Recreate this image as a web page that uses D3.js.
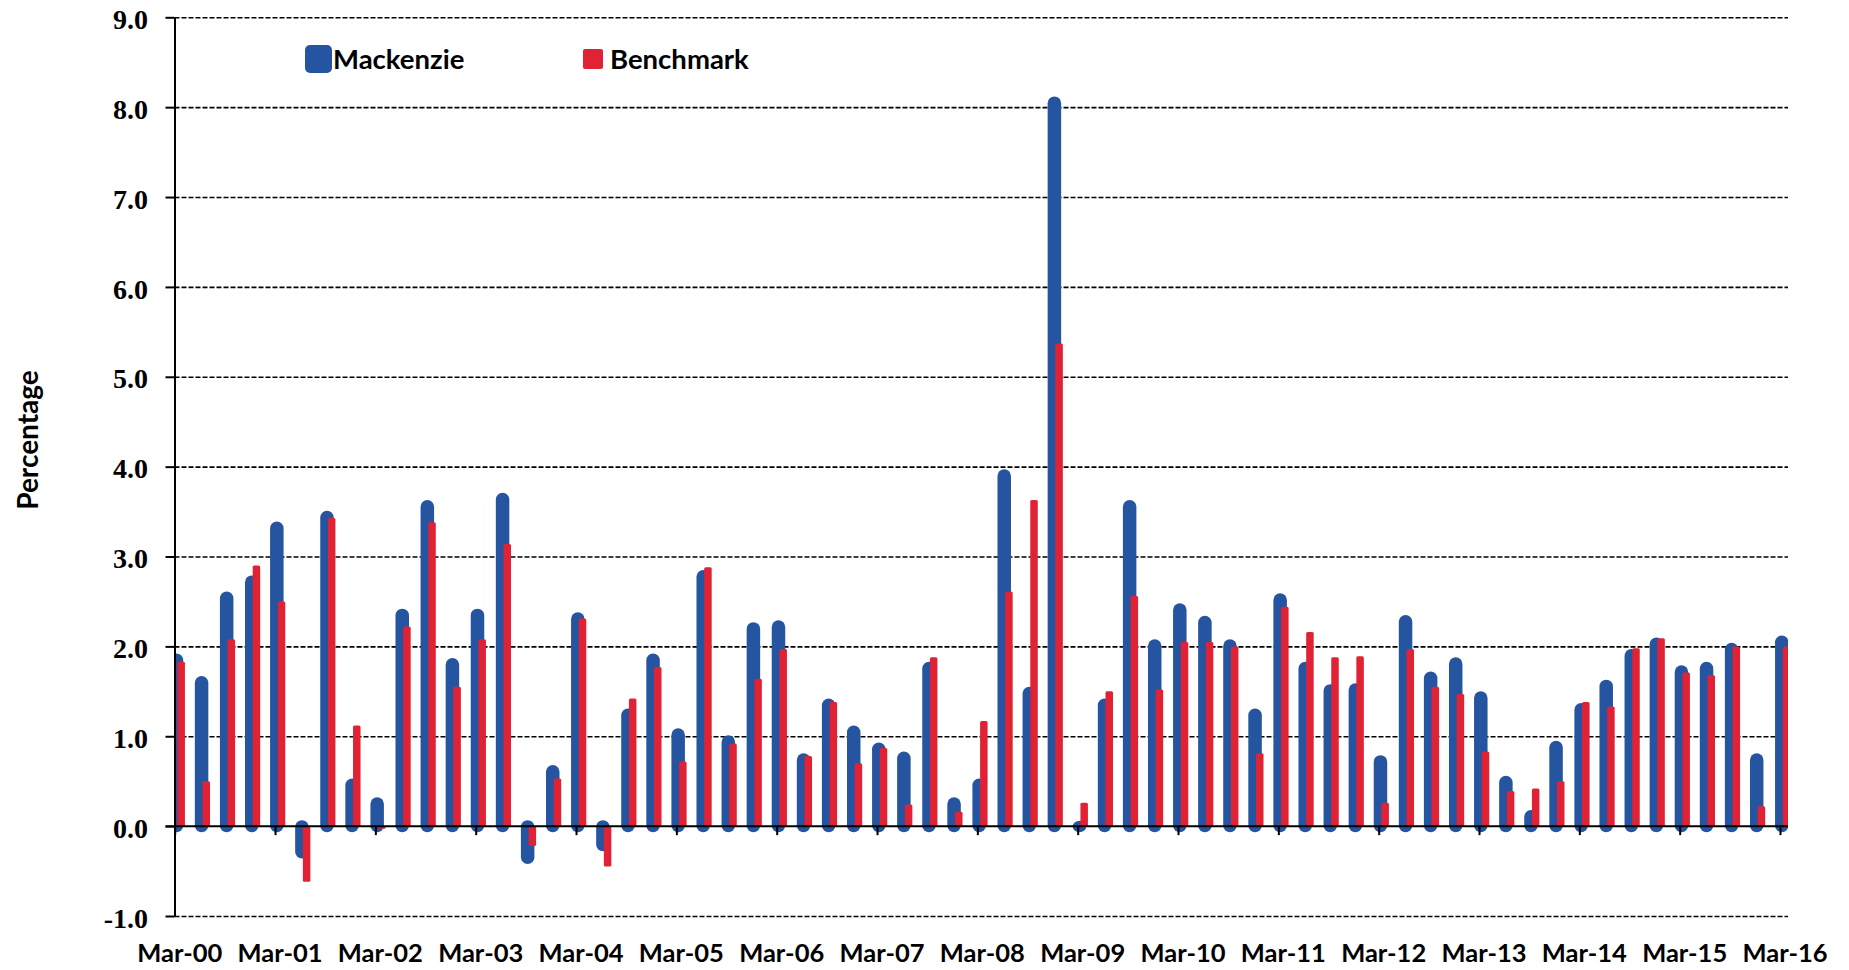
<!DOCTYPE html>
<html>
<head>
<meta charset="utf-8">
<script src="https://cdn.jsdelivr.net/npm/d3@7"></script>
<style>
  body { margin: 0; background: #fff; }
  .ylab text { font-family: "Liberation Serif", serif; font-weight: bold; font-size: 28px; fill: #000; }
  .xlab text { font-family: Lato, "Open Sans", sans-serif; font-weight: bold; font-size: 25.5px; fill: #000; }
  .legend text, .title { font-family: Lato, "Open Sans", sans-serif; font-weight: bold; fill: #000; }
</style>
</head>
<body>
<svg id="chart" width="1849" height="970"></svg>
<script>
// quarterly categories, Mar-00 .. Mar-16
const years = ["00","01","02","03","04","05","06","07","08","09","10","11","12","13","14","15","16"];
const months = ["Mar", "Jun", "Sep", "Dec"];
let quarters = [];
years.forEach(y => months.forEach(m => quarters.push(m + "-" + y)));
quarters = quarters.slice(0, 65);

const mackenzie = [
  1.92, 1.67, 2.61, 2.79, 3.39, -0.36, 3.51, 0.53,
  0.32, 2.42, 3.63, 1.87, 2.42, 3.71, -0.42, 0.68,
  2.38, -0.28, 1.31, 1.92, 1.09, 2.85, 1.01, 2.27,
  2.29, 0.81, 1.42, 1.12, 0.93, 0.83, 1.83, 0.32,
  0.53, 3.97, 1.55, 8.12, 0.06, 1.42, 3.63, 2.08,
  2.48, 2.34, 2.08, 1.31, 2.59, 1.83, 1.58, 1.59,
  0.79, 2.35, 1.72, 1.88, 1.50, 0.56, 0.18, 0.95,
  1.37, 1.63, 1.97, 2.10, 1.79, 1.83, 2.04, 0.81,
  2.12
];
const benchmark = [
  1.83, 0.50, 2.08, 2.90, 2.50, -0.62, 3.43, 1.12,
  -0.03, 2.22, 3.38, 1.55, 2.08, 3.14, -0.22, 0.53,
  2.31, -0.45, 1.42, 1.77, 0.72, 2.88, 0.92, 1.64,
  1.97, 0.78, 1.38, 0.70, 0.87, 0.24, 1.88, 0.16,
  1.17, 2.61, 3.63, 5.37, 0.26, 1.50, 2.56, 1.52,
  2.05, 2.05, 2.00, 0.81, 2.44, 2.16, 1.88, 1.89,
  0.26, 1.97, 1.55, 1.47, 0.83, 0.39, 0.42, 0.50,
  1.38, 1.33, 1.98, 2.09, 1.71, 1.68, 2.00, 0.22,
  2.00
];
const yTicks = [-1, 0, 1, 2, 3, 4, 5, 6, 7, 8, 9];
const yearTicks = quarters.filter(q => q.startsWith("Mar"));

const svg = d3.select("#chart");
const axisX = 174.5, plotRight = 1788;

const x = d3.scalePoint().domain(quarters).range([174.7, 1780]);
const y = d3.scaleLinear().domain([-1, 9]).range([916, 17.3]);
const y0 = y(0);

// gridlines (dashed)
svg.append("g")
  .attr("transform", "translate(" + axisX + ",0)")
  .call(d3.axisLeft(y).tickValues(yTicks.filter(d => d !== 0))
    .tickSize(-(plotRight - axisX)).tickFormat(""))
  .call(g => g.select(".domain").remove())
  .call(g => g.selectAll(".tick line")
    .attr("stroke", "#000").attr("stroke-width", 1.6).attr("stroke-dasharray", "5,2"));

svg.append("defs").append("clipPath").attr("id", "plot")
  .append("rect").attr("x", axisX).attr("y", 0)
  .attr("width", plotRight - axisX).attr("height", 970);

const bars = svg.append("g").attr("clip-path", "url(#plot)");

// Mackenzie: rounded capsules, extending a little past zero
const bw = 13.5, cap = 6;
bars.selectAll("rect.mk")
  .data(mackenzie)
  .enter().append("rect")
  .attr("class", "mk")
  .attr("x", (d, i) => x(quarters[i]) + 1.8 - bw / 2)
  .attr("width", bw)
  .attr("y", d => d >= 0 ? y(d) : y0 - cap)
  .attr("height", d => d >= 0 ? y0 + cap - y(d) : y(d) - (y0 - cap))
  .attr("rx", bw / 2)
  .attr("fill", "#2554a0");

// Benchmark: thin red bars
const rw = 7.5;
bars.selectAll("rect.bm")
  .data(benchmark)
  .enter().append("rect")
  .attr("class", "bm")
  .attr("x", (d, i) => x(quarters[i]) + 6.5 - rw / 2)
  .attr("width", rw)
  .attr("y", d => Math.min(y(d), y0))
  .attr("height", d => Math.abs(y(d) - y0))
  .attr("rx", 1.5)
  .attr("fill", "#e12235");

// zero line with year ticks
svg.append("g")
  .attr("transform", "translate(0," + y0 + ")")
  .call(d3.axisBottom(x).tickValues(yearTicks).tickSize(9).tickSizeOuter(0).tickFormat(""))
  .call(g => g.select(".domain").attr("d", "M" + (axisX - 9) + ",0H" + plotRight)
    .attr("stroke", "#000").attr("stroke-width", 2))
  .call(g => g.selectAll(".tick line").attr("stroke", "#000").attr("stroke-width", 2));

// y axis
svg.append("g")
  .attr("class", "ylab")
  .attr("transform", "translate(" + axisX + ",0)")
  .call(d3.axisLeft(y).tickValues(yTicks).tickSize(9).tickSizeOuter(0)
    .tickPadding(17.5).tickFormat(d => d.toFixed(1)))
  .call(g => g.select(".domain").attr("stroke", "#000").attr("stroke-width", 2))
  .call(g => g.selectAll(".tick line").attr("stroke", "#000").attr("stroke-width", 2))
  .call(g => g.selectAll(".tick text").attr("dy", "0.4em"));

// x labels under the plot
svg.append("g")
  .attr("class", "xlab")
  .attr("transform", "translate(0,916)")
  .call(d3.axisBottom(x).tickValues(yearTicks).tickSize(0).tickPadding(28))
  .call(g => g.select(".domain").remove())
  .call(g => g.selectAll(".tick text").attr("dx", 4.5));

// y title
svg.append("text")
  .attr("class", "title")
  .attr("text-anchor", "middle")
  .attr("transform", "translate(38,440)rotate(-90)")
  .style("font-size", "28px")
  .text("Percentage");

// legend
const legend = svg.append("g").attr("class", "legend");
legend.append("rect").attr("x", 305).attr("y", 45).attr("width", 27).attr("height", 28)
  .attr("rx", 5).attr("fill", "#2554a0");
legend.append("text").attr("x", 333).attr("y", 69).style("font-size", "27.5px").text("Mackenzie");
legend.append("rect").attr("x", 583).attr("y", 49).attr("width", 20).attr("height", 20)
  .attr("rx", 2).attr("fill", "#e12235");
legend.append("text").attr("x", 610).attr("y", 69).style("font-size", "27.5px").text("Benchmark");
</script>
</body>
</html>
